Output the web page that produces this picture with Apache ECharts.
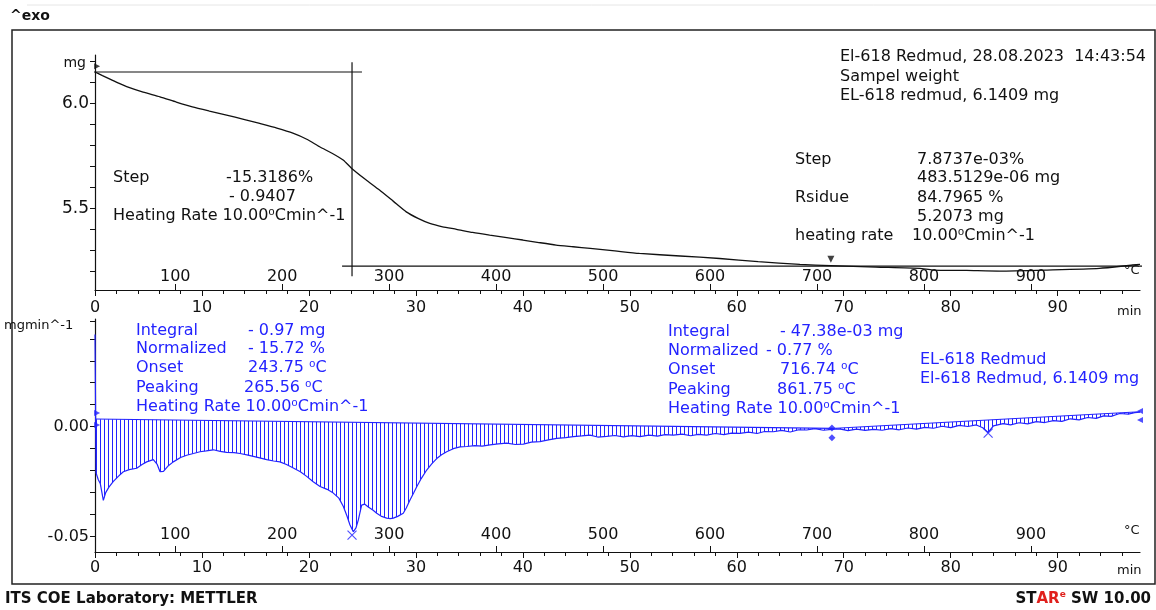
<!DOCTYPE html>
<html><head><meta charset="utf-8">
<script src="https://cdn.jsdelivr.net/npm/echarts@6/dist/echarts.min.js"></script>
<style>html,body{margin:0;padding:0;background:#fff}#c{width:1156px;height:610px}</style>
</head><body><div id="c"></div>
<script>
// ---------- DATA ----------
const tgaTime = [0, 0.7, 1.5, 2.2, 2.96, 4.5, 6.07, 7.6, 9.1, 10.7, 12.3, 13.9, 15.4, 17.0, 18.5, 19.8, 21.0, 22.2, 23.2, 24.0, 25.3, 26.6, 27.9, 29.1, 30.2, 31.3, 32.5, 33.8, 35.3, 36.9, 38.5, 40.0, 41.5, 43.1, 44.7, 46.3, 48.6, 50.9, 54.7, 58.4, 62.0, 65.9, 68.8, 73.0, 77.1, 78.3, 81.5, 84.6, 89.0, 93.9, 97.0, 97.7];
const tgaMass = [6.148, 6.131, 6.112, 6.095, 6.078, 6.052, 6.030, 6.005, 5.982, 5.962, 5.943, 5.923, 5.903, 5.881, 5.857, 5.828, 5.792, 5.760, 5.729, 5.689, 5.636, 5.586, 5.532, 5.482, 5.451, 5.427, 5.411, 5.399, 5.384, 5.371, 5.359, 5.348, 5.336, 5.324, 5.316, 5.308, 5.296, 5.284, 5.272, 5.260, 5.245, 5.232, 5.226, 5.219, 5.213, 5.205, 5.203, 5.200, 5.205, 5.213, 5.229, 5.232];

const dtgTime = [0, 0.1, 0.3, 0.5, 0.78, 1.0, 1.3, 1.7, 2.2, 2.65, 3.2, 3.9, 4.4, 4.83, 5.45, 5.8, 6.08, 6.4, 6.8, 7.32, 8.0, 8.57, 9.2, 9.82, 10.4, 11.06, 11.7, 12.31, 13.0, 13.56, 14.2, 14.8, 15.4, 16.05, 16.7, 17.29, 17.9, 18.54, 19.2, 19.79, 20.4, 21.04, 21.7, 22.28, 22.8, 23.21, 23.55, 23.84, 24.15, 24.4, 24.62, 24.93, 25.2, 25.55, 26.0, 26.34, 26.8, 27.27, 27.6, 27.89, 28.3, 28.82, 29.1, 29.45, 29.8, 30.08, 30.5, 31.01, 31.5, 31.95, 32.4, 32.88, 33.5, 34.13, 34.75, 35.5, 36.2, 36.93, 37.7, 38.49, 39.3, 40.04, 40.8, 41.6, 42.4, 43.17, 44.0, 44.72, 45.5, 46.28, 47.0, 47.84, 48.6, 49.4, 50.2, 50.95, 51.8, 52.6, 53.3, 54.07, 54.9, 55.7, 56.4, 57.19, 58.0, 58.8, 59.5, 60.3, 61.1, 61.9, 62.6, 63.42, 64.2, 65.0, 65.8, 66.54, 67.3, 68.1, 68.88, 69.6, 70.4, 71.2, 72.0, 72.8, 73.6, 74.4, 75.2, 76.0, 76.8, 77.6, 78.4, 79.2, 80.0, 80.8, 81.6, 82.4, 83.0, 83.5, 84.0, 84.9, 85.6, 86.4, 87.2, 88.0, 88.8, 89.6, 90.4, 91.2, 92.0, 92.8, 93.6, 94.3, 95.0, 95.8, 96.6, 97.2, 97.7];
const dtgRate = [0.042, -0.021, -0.024, -0.026, -0.0335, -0.030, -0.0275, -0.025, -0.0225, -0.0205, -0.0195, -0.0189, -0.0172, -0.0160, -0.0150, -0.0170, -0.0205, -0.0203, -0.0180, -0.0160, -0.0140, -0.0130, -0.0122, -0.0114, -0.0110, -0.0105, -0.0112, -0.0117, -0.0118, -0.0122, -0.0128, -0.0135, -0.0142, -0.0150, -0.0156, -0.0160, -0.0172, -0.0188, -0.0205, -0.0226, -0.0250, -0.0272, -0.0285, -0.0302, -0.0325, -0.0362, -0.0405, -0.0447, -0.0478, -0.0460, -0.0424, -0.0357, -0.0352, -0.0365, -0.0380, -0.0394, -0.0408, -0.0416, -0.0418, -0.0416, -0.0408, -0.0394, -0.0370, -0.0333, -0.0300, -0.0273, -0.0236, -0.0197, -0.0168, -0.0145, -0.0128, -0.0114, -0.0100, -0.0092, -0.0090, -0.0086, -0.0088, -0.0083, -0.0078, -0.0075, -0.0081, -0.0079, -0.0070, -0.0068, -0.0060, -0.0053, -0.0050, -0.0045, -0.0042, -0.0038, -0.0047, -0.0044, -0.0040, -0.0046, -0.0041, -0.0045, -0.0038, -0.0043, -0.0036, -0.0038, -0.0034, -0.0041, -0.0035, -0.0038, -0.0031, -0.0036, -0.0029, -0.0030, -0.0025, -0.0031, -0.0022, -0.0023, -0.0017, -0.0024, -0.0014, -0.0015, -0.0009, -0.0016, -0.0012, -0.0010, -0.0018, -0.0011, -0.0017, -0.0012, -0.0016, -0.0009, -0.0014, -0.0006, -0.0011, -0.0003, -0.0007, 0.0002, -0.0004, 0.0006, 0.0001, 0.0008, -0.0005, -0.0026, 0.0004, 0.0014, 0.0008, 0.0018, 0.0013, 0.0023, 0.0019, 0.0028, 0.0024, 0.0036, 0.0031, 0.0042, 0.0038, 0.0049, 0.0047, 0.0060, 0.0057, 0.0064, 0.0066];

// integration baselines [t, value] at start and end
const baseline1 = [[0, 0.0035], [68.9, -0.0008]];
const baseline2 = [[68.9, -0.0008], [97.7, 0.0068]];

// TGA evaluation lines
const stepLineTop = [[-0.65, 6.148], [24.96, 6.148]];
const stepLineVert = [[24.03, 6.195], [24.03, 5.176]];
const residueLine = [[23.1, 5.224], [98.45, 5.224]];

// axis ticks / labels
const timeMajor = [0, 10, 20, 30, 40, 50, 60, 70, 80, 90];
const timeMinor = [2, 4, 6, 8, 12, 14, 16, 18, 22, 24, 26, 28, 32, 34, 36, 38, 42, 44, 46, 48, 52, 54, 56, 58, 62, 64, 66, 68, 72, 74, 76, 78, 82, 84, 86, 88, 92, 94, 96];
const tempMajor = [100, 200, 300, 400, 500, 600, 700, 800, 900];
const startTemp = 25, heatingRate = 10;
const massTicks = [5.2, 5.3, 5.4, 5.5, 5.6, 5.7, 5.8, 5.9, 6.0, 6.1, 6.2];
const massLabels = [5.5, 6.0];
const rateTicks = [-0.05, -0.04, -0.03, -0.02, -0.01, 0.0, 0.01, 0.02, 0.03, 0.04, 0.048];
const rateLabels = [-0.05, 0.0];

// markers
const tgaMarkRight = [[0.2, 6.176]];
const tgaMarkDown = [[68.8, 5.257]];
const dtgMarkRight = [[0.2, 0.0062], [0.2, 0.0008]];
const dtgMarkLeft = [[97.7, 0.0071], [97.7, 0.003]];
const dtgMarkDiamond = [[68.9, -0.0006], [68.9, -0.005]];
const dtgMarkPeak = [[24.03, -0.0493], [83.5, -0.0029]];

// ---------- CHART ----------
const BLUE = '#2323ff';
const INK = '#111';
const FONT = '"DejaVu Sans", sans-serif';
const zip = (a, b) => a.map((v, i) => [v, b[i]]);
const tTemp = T => (T - startTemp) / heatingRate;

const pc = document.createElement('canvas');
pc.width = 4; pc.height = 4;
const pctx = pc.getContext('2d');
pctx.fillStyle = BLUE; pctx.fillRect(0, 0, 1, 4);

function hatch(base) {
  return function (params, api) {
    const t0 = base[0][0], t1 = base[1][0];
    const pts = [];
    dtgTime.forEach((t, i) => { if (t >= t0 - 1e-9 && t <= t1 + 1e-9) pts.push(api.coord([t, dtgRate[i]])); });
    pts.push(api.coord(base[1]));
    pts.push(api.coord(base[0]));
    return { type: 'polygon', shape: { points: pts }, style: { fill: { image: pc, repeat: 'repeat' }, stroke: null } };
  };
}

function timeAxis(grid, margin) {
  return { gridIndex: grid, type: 'value', min: 0, max: 97.7, position: 'bottom',
    axisLine: { show: true, onZero: false, lineStyle: { color: INK, width: 1.2 } },
    axisTick: { show: true, customValues: timeMajor, length: 6, lineStyle: { color: INK } },
    axisLabel: { show: true, customValues: timeMajor, margin: margin, color: INK, fontSize: 16, fontFamily: FONT },
    splitLine: { show: false } };
}
function minorAxis(grid) {
  return { gridIndex: grid, type: 'value', min: 0, max: 97.7, position: 'bottom',
    axisLine: { show: false, onZero: false },
    axisTick: { show: true, customValues: timeMinor, length: 4, lineStyle: { color: INK } },
    axisLabel: { show: false }, splitLine: { show: false } };
}
function tempAxis(grid, margin) {
  const vals = tempMajor.map(tTemp);
  return { gridIndex: grid, type: 'value', min: 0, max: 97.7, position: 'bottom',
    axisLine: { show: false, onZero: false },
    axisTick: { show: true, inside: true, customValues: vals, length: 6, lineStyle: { color: INK } },
    axisLabel: { show: true, inside: true, customValues: vals, margin: margin, color: INK, fontSize: 16, fontFamily: FONT,
      formatter: v => String(Math.round(v * heatingRate + startTemp)) },
    splitLine: { show: false } };
}

const texts = [];
function txt(x, y, s, opt) {
  opt = opt || {};
  texts.push({ type: 'text', x: x, y: y, silent: true, z: 100,
    style: { text: s, fill: opt.color || INK, font: (opt.weight || 'normal') + ' ' + (opt.size || 16) + 'px ' + FONT,
      align: opt.align || 'left', verticalAlign: 'middle' } });
}
// header / frame
texts.push({ type: 'line', shape: { x1: 27, y1: 5, x2: 1156, y2: 5 }, style: { stroke: '#e6e6e6', lineWidth: 1 } });
texts.push({ type: 'rect', shape: { x: 12, y: 30, width: 1143, height: 554 }, style: { fill: null, stroke: '#222', lineWidth: 1.5 } });
txt(10, 16, '^exo', { weight: 'bold', size: 14 });
txt(5, 599, 'ITS COE Laboratory: METTLER', { weight: 'bold', size: 15 });
texts.push({ type: 'text', x: 1151, y: 599, silent: true,
  style: { text: '{b|ST}{r|AR}{s|e}{b| SW 10.00}', align: 'right', verticalAlign: 'middle',
    rich: { b: { font: 'bold 15px ' + FONT, fill: INK }, r: { font: 'bold 15px ' + FONT, fill: '#e0201c' },
      s: { font: 'bold 9px ' + FONT, fill: '#e0201c', padding: [0, 0, 8, 0] } } } });
// axis captions
txt(86, 63, 'mg', { size: 14, align: 'right' });
txt(4, 326, 'mgmin^-1', { size: 13 });
txt(1117, 312, 'min', { size: 13 });
txt(1117, 571, 'min', { size: 13 });
txt(1124, 271, '°C', { size: 13 });
txt(1124, 531, '°C', { size: 13 });
// TGA annotations
txt(113, 178, 'Step'); txt(226, 178, '-15.3186%'); txt(229, 197, '- 0.9407');
txt(113, 216, 'Heating Rate 10.00⁰Cmin^-1');
txt(840, 57, 'El-618 Redmud, 28.08.2023  14:43:54'); txt(840, 77, 'Sampel weight'); txt(840, 96, 'EL-618 redmud, 6.1409 mg');
txt(795, 160, 'Step'); txt(917, 160, '7.8737e-03%'); txt(917, 178, '483.5129e-06 mg');
txt(795, 198, 'Rsidue'); txt(917, 198, '84.7965 %'); txt(917, 217, '5.2073 mg');
txt(795, 236, 'heating rate'); txt(912, 236, '10.00⁰Cmin^-1');
// DTG annotations
const B = { color: BLUE };
txt(136, 331, 'Integral', B); txt(248, 331, '- 0.97 mg', B);
txt(136, 349, 'Normalized', B); txt(248, 349, '- 15.72 %', B);
txt(136, 368, 'Onset', B); txt(248, 368, '243.75 ⁰C', B);
txt(136, 388, 'Peaking', B); txt(244, 388, '265.56 ⁰C', B);
txt(136, 407, 'Heating Rate 10.00⁰Cmin^-1', B);
txt(668, 332, 'Integral', B); txt(780, 332, '- 47.38e-03 mg', B);
txt(668, 351, 'Normalized', B); txt(766, 351, '- 0.77 %', B);
txt(668, 370, 'Onset', B); txt(780, 370, '716.74 ⁰C', B);
txt(668, 390, 'Peaking', B); txt(777, 390, '861.75 ⁰C', B);
txt(668, 409, 'Heating Rate 10.00⁰Cmin^-1', B);
txt(920, 360, 'EL-618 Redmud', B); txt(920, 379, 'El-618 Redmud, 6.1409 mg', B);

const blackLine = (data) => ({ type: 'line', xAxisIndex: 0, yAxisIndex: 0, data: data, symbol: 'none', clip: false,
  lineStyle: { color: INK, width: 1.2 }, silent: true, animation: false });

const option = {
  animation: false,
  backgroundColor: '#fff',
  grid: [
    { left: 95, top: 55, width: 1045, height: 235 },
    { left: 95, top: 319, width: 1045, height: 233 }
  ],
  xAxis: [timeAxis(0, 10), minorAxis(0), tempAxis(0, 5), timeAxis(1, 8), minorAxis(1), tempAxis(1, 9)],
  yAxis: [
    { gridIndex: 0, type: 'value', min: 5.11, max: 6.229,
      axisLine: { show: true, onZero: false, lineStyle: { color: INK, width: 1.2 } },
      axisTick: { show: true, customValues: massTicks, length: 5, lineStyle: { color: INK } },
      axisLabel: { show: true, customValues: massLabels, margin: 6, color: INK, fontSize: 17, fontFamily: FONT, formatter: v => v.toFixed(1) },
      splitLine: { show: false } },
    { gridIndex: 1, type: 'value', min: -0.057, max: 0.049,
      axisLine: { show: true, onZero: false, lineStyle: { color: INK, width: 1.2 } },
      axisTick: { show: true, customValues: rateTicks, length: 5, lineStyle: { color: INK } },
      axisLabel: { show: true, customValues: rateLabels, margin: 6, color: INK, fontSize: 16, fontFamily: FONT, formatter: v => v.toFixed(2) },
      splitLine: { show: false } }
  ],
  series: [
    { type: 'line', xAxisIndex: 0, yAxisIndex: 0, data: zip(tgaTime, tgaMass), symbol: 'none', smooth: 0.2,
      lineStyle: { color: INK, width: 1.3 }, clip: false },
    blackLine(stepLineTop), blackLine(stepLineVert), blackLine(residueLine),
    { type: 'scatter', xAxisIndex: 0, yAxisIndex: 0, data: tgaMarkRight, symbol: 'triangle', symbolSize: 6, symbolRotate: -90, itemStyle: { color: INK }, clip: false },
    { type: 'scatter', xAxisIndex: 0, yAxisIndex: 0, data: tgaMarkDown, symbol: 'triangle', symbolSize: 7, symbolRotate: 180, itemStyle: { color: INK } },
    { type: 'custom', xAxisIndex: 3, yAxisIndex: 1, data: [[0]], renderItem: hatch(baseline1), silent: true },
    { type: 'custom', xAxisIndex: 3, yAxisIndex: 1, data: [[0]], renderItem: hatch(baseline2), silent: true },
    { type: 'line', xAxisIndex: 3, yAxisIndex: 1, data: baseline1, symbol: 'none', lineStyle: { color: BLUE, width: 1.2 } },
    { type: 'line', xAxisIndex: 3, yAxisIndex: 1, data: baseline2, symbol: 'none', lineStyle: { color: BLUE, width: 1 } },
    { type: 'line', xAxisIndex: 3, yAxisIndex: 1, data: zip(dtgTime, dtgRate), symbol: 'none',
      lineStyle: { color: BLUE, width: 1.2 }, clip: false },
    { type: 'scatter', xAxisIndex: 3, yAxisIndex: 1, data: dtgMarkRight, symbol: 'triangle', symbolSize: 6, symbolRotate: -90, itemStyle: { color: BLUE }, clip: false },
    { type: 'scatter', xAxisIndex: 3, yAxisIndex: 1, data: dtgMarkLeft, symbol: 'triangle', symbolSize: 6, symbolRotate: 90, itemStyle: { color: BLUE }, clip: false },
    { type: 'scatter', xAxisIndex: 3, yAxisIndex: 1, data: dtgMarkDiamond, symbol: 'diamond', symbolSize: 7, itemStyle: { color: BLUE } },
    { type: 'scatter', xAxisIndex: 3, yAxisIndex: 1, data: dtgMarkPeak, symbol: 'path://M0,0L10,10M10,0L0,10', symbolSize: 9,
      itemStyle: { color: 'none', borderColor: BLUE, borderWidth: 1.2 } }
  ],
  graphic: texts
};

const chart = echarts.init(document.getElementById('c'), null, { renderer: 'canvas' });
chart.setOption(option);
</script>
</body></html>
